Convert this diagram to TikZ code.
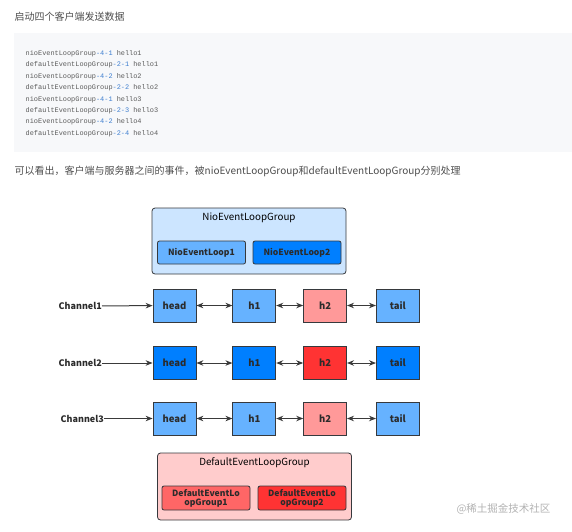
\documentclass[tikz,border=0pt]{standalone}
\usepackage{fontspec}
\setmainfont{Noto Sans CJK SC}
\newfontfamily\codefont{Liberation Mono}
\usetikzlibrary{arrows.meta,positioning}

\definecolor{prose}{HTML}{4D4D4D}
\definecolor{codebg}{HTML}{F7F8FA}
\definecolor{codegray}{HTML}{5C5C5C}
\definecolor{codenum}{HTML}{3F7FD0}
\definecolor{boxline}{HTML}{36393D}
\definecolor{textdark}{HTML}{2B2B2B}
\definecolor{lblue}{HTML}{66B2FF}
\definecolor{dblue}{HTML}{007FFF}
\definecolor{lred}{HTML}{FF9999}
\definecolor{dred}{HTML}{FF3333}
\definecolor{nioback}{HTML}{CCE5FF}
\definecolor{defback}{HTML}{FFCCCC}
\definecolor{defone}{HTML}{FF6666}
\definecolor{arrowgray}{HTML}{3A3A3A}

\newcommand{\num}[1]{\textcolor{codenum}{#1}}

\begin{document}
\begin{tikzpicture}[x=1pt, y=-1pt,
  prosetext/.style={anchor=west, text=prose, inner sep=0pt, font=\fontsize{10}{12}\selectfont},
  codetext/.style={anchor=north west, text=codegray, inner sep=0pt, align=left,
    font=\codefont\fontsize{6.9}{11.45}\selectfont},
  block/.style={draw=boxline, line width=.8pt, minimum width=43pt, minimum height=33pt,
    inner sep=0pt, text=textdark, font=\bfseries\fontsize{9.5}{10}\selectfont},
  group/.style={draw=boxline, rounded corners=3pt, line width=.8pt, minimum width=194pt,
    minimum height=66pt, inner sep=0pt},
  grouptitle/.style={text=black, inner sep=0pt, font=\fontsize{9.8}{10}\selectfont},
  loop/.style={draw=boxline, rounded corners=2pt, line width=.8pt, minimum width=88pt,
    minimum height=23pt, inner sep=0pt, align=center, text=textdark,
    font=\bfseries\fontsize{8.6}{10}\selectfont},
  chlabel/.style={anchor=east, inner sep=0pt, text=textdark, font=\bfseries\fontsize{9}{10}\selectfont},
  feed/.style={-{Stealth[length=7pt, width=5.5pt]}, line width=1pt, draw=arrowgray},
  link/.style={{Stealth[length=7pt, width=5.5pt]}-{Stealth[length=7pt, width=5.5pt]}, line width=1pt, draw=arrowgray}
]
\useasboundingbox (0,0) rectangle (572,531);

% text and code block
\node[prosetext] (intro) at (14.5,16.5) {启动四个客户端发送数据};
\fill[codebg] (14,33) rectangle (572,152);
\node[codetext] (code) at (25.5,50) {%
nioEventLoopGroup\num{-4-1} hello1\\
defaultEventLoopGroup\num{-2-1} hello1\\
nioEventLoopGroup\num{-4-2} hello2\\
defaultEventLoopGroup\num{-2-2} hello2\\
nioEventLoopGroup\num{-4-1} hello3\\
defaultEventLoopGroup\num{-2-3} hello3\\
nioEventLoopGroup\num{-4-2} hello4\\
defaultEventLoopGroup\num{-2-4} hello4};
\node[prosetext] (remark) at (14.5,171) {可以看出，客户端与服务器之间的事件，被nioEventLoopGroup和defaultEventLoopGroup分别处理};

% nio group
\node[group, fill=nioback] (niogroup) at (249,241) {};
\node[grouptitle] (niotitle) at (249,218) {NioEventLoopGroup};
\node[loop, fill=lblue] (nioloop1) at (201.5,252.5) {NioEventLoop1};
\node[loop, fill=dblue] (nioloop2) at (297,252.5) {NioEventLoop2};

% channel 1
\node[chlabel] (ch1) at (102,306) {Channel1};
\node[block, fill=lblue] (head1) at (174.5,305.5) {head};
\node[block, fill=lblue, right=36pt of head1] (hone1) {h1};
\node[block, fill=lred, right=27pt of hone1] (htwo1) {h2};
\node[block, fill=lblue, right=29pt of htwo1] (tail1) {tail};
\draw[feed] (ch1) -- (head1);
\draw[link] (head1) -- (hone1);
\draw[link] (hone1) -- (htwo1);
\draw[link] (htwo1) -- (tail1);

% channel 2
\node[chlabel] (ch2) at (102,363) {Channel2};
\node[block, fill=dblue] (head2) at (174.5,363) {head};
\node[block, fill=dblue, right=36pt of head2] (hone2) {h1};
\node[block, fill=dred, right=27pt of hone2] (htwo2) {h2};
\node[block, fill=dblue, right=29pt of htwo2] (tail2) {tail};
\draw[feed] (ch2) -- (head2);
\draw[link] (head2) -- (hone2);
\draw[link] (hone2) -- (htwo2);
\draw[link] (htwo2) -- (tail2);

% channel 3
\node[chlabel] (ch3) at (104,418.5) {Channel3};
\node[block, fill=lblue] (head3) at (174.5,418.5) {head};
\node[block, fill=lblue, right=36pt of head3] (hone3) {h1};
\node[block, fill=lred, right=27pt of hone3] (htwo3) {h2};
\node[block, fill=lblue, right=29pt of htwo3] (tail3) {tail};
\draw[feed] (ch3) -- (head3);
\draw[link] (head3) -- (hone3);
\draw[link] (hone3) -- (htwo3);
\draw[link] (htwo3) -- (tail3);

% default group
\node[group, fill=defback, minimum height=67pt] (defgroup) at (254.5,486.5) {};
\node[grouptitle] (deftitle) at (254.5,463) {DefaultEventLoopGroup};
\node[loop, fill=defone, minimum height=24pt] (defloop1) at (206,498) {DefaultEventLo\\[-1pt]opGroup1};
\node[loop, fill=dred, minimum height=24pt] (defloop2) at (302,498) {DefaultEventLo\\[-1pt]opGroup2};

\node[text=black!30, inner sep=0pt, font=\fontsize{10.5}{12}\selectfont] (mark) at (503.5,509) {@稀土掘金技术社区};
\end{tikzpicture}
\end{document}
